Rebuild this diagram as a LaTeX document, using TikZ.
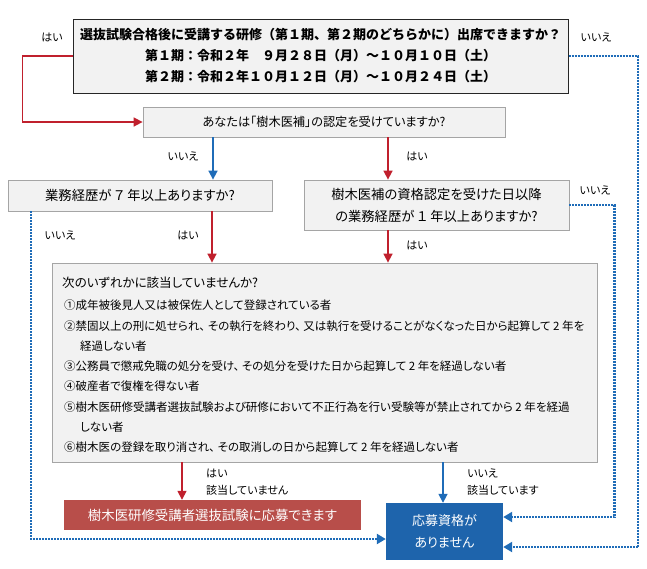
\documentclass[tikz,border=0pt]{standalone}
\usepackage{fontspec}
\setmainfont{Noto Sans CJK JP}
\newfontfamily\pjp[RawFeature=+palt]{Noto Sans CJK JP}
\usetikzlibrary{arrows.meta}
\definecolor{rline}{RGB}{192,32,45}
\definecolor{bline}{RGB}{31,108,184}
\definecolor{rfill}{RGB}{184,78,74}
\definecolor{bfill}{RGB}{30,100,172}
\definecolor{gfill}{RGB}{242,242,242}
\definecolor{gedge}{RGB}{165,165,165}
\newcommand{\fsz}[2]{\fontsize{#1}{#2}\selectfont}
\begin{document}
\begin{tikzpicture}[x=1pt,y=-1pt,
 gbox/.style={draw=gedge,fill=gfill,line width=0.8pt,inner sep=0pt,align=center},
 redarr/.style={draw=rline,line width=1.6pt,-{Triangle[length=9pt,width=9pt]}},
 bluearr/.style={draw=bline,line width=1.6pt,-{Triangle[length=9pt,width=9pt]}},
 bdot/.style={draw=bline,line width=2.2pt,dash pattern=on 2pt off 1pt,-{Triangle[length=9pt,width=10pt]}},
 lbl/.style={font=\pjp\fsz{11}{16},inner sep=0pt},
 lblw/.style={font=\pjp\fsz{11}{16},inner sep=0pt,anchor=west},
 item/.style={anchor=west,font=\pjp\fsz{11.5}{14},inner sep=0pt},
]
\useasboundingbox (0,0) rectangle (647,568);
\fill[white] (0,0) rectangle (647,568);

% boxes
\node[gbox,draw=black!85,line width=1pt,minimum width=495pt,minimum height=74pt,font=\bfseries\fsz{13}{21}] (top) at (320.5,56)
 {選抜試験合格後に受講する研修（第１期、第２期のどちらかに）出席できますか？\\
  第１期：令和２年　９月２８日（月）～１０月１０日（土）\\
  第２期：令和２年１０月１２日（月）～１０月２４日（土）};
\node[gbox,minimum width=362pt,minimum height=30pt,font=\pjp\fsz{12.2}{14}] (q2) at (324,122) {あなたは「樹木医補」の認定を受けていますか?};
\node[gbox,minimum width=264pt,minimum height=31pt,font=\pjp\fsz{13.3}{14}] (q3) at (140,195.5) {業務経歴が ７ 年以上ありますか?};
\node[gbox,minimum width=265pt,minimum height=50pt,font=\pjp\fsz{13.3}{22}] (q4) at (436.5,205) {樹木医補の資格認定を受けた日以降\\の業務経歴が １ 年以上ありますか?};
\node[gbox,minimum width=545pt,minimum height=199pt] (q6) at (324.5,362.5) {};
\node[fill=rfill,text=white,inner sep=0pt,minimum width=297pt,minimum height=30pt,font=\pjp\fsz{13.4}{15}] (ok) at (212.5,515) {樹木医研修受講者選抜試験に応募できます};
\node[fill=bfill,text=white,inner sep=0pt,minimum width=117pt,minimum height=57pt,align=center,font=\pjp\fsz{13}{22}] (res) at (444.5,531.5) {応募資格が\\ありません};

% box6 text
\node[anchor=west,inner sep=0pt,font=\pjp\fsz{12.5}{14}] (t0) at (62,283) {次のいずれかに該当していませんか?};
\node[item] (t1) at (64,305) {①成年被後見人又は被保佐人として登録されている者};
\node[item] (t2) at (64,326) {②禁固以上の刑に処せられ、 その執行を終わり、 又は執行を受けることがなくなった日から起算して 2 年を};
\node[item] (t3) at (80,346) {経過しない者};
\node[item] (t4) at (64,366) {③公務員で懲戒免職の処分を受け、 その処分を受けた日から起算して 2 年を経過しない者};
\node[item] (t5) at (64,386) {④破産者で復権を得ない者};
\node[item] (t6) at (64,407) {⑤樹木医研修受講者選抜試験および研修において不正行為を行い受験等が禁止されてから 2 年を経過};
\node[item] (t7) at (80,427) {しない者};
\node[item] (t8) at (64,447) {⑥樹木医の登録を取り消され、 その取消しの日から起算して 2 年を経過しない者};

% labels
\node[lbl] (a1) at (52,37) {はい};
\node[lbl] (a2) at (596,37) {いいえ};
\node[lbl] (a3) at (183,156) {いいえ};
\node[lbl] (a4) at (417,156) {はい};
\node[lbl] (a5) at (595,190) {いいえ};
\node[lbl] (a6) at (60,235) {いいえ};
\node[lbl] (a7) at (188,235) {はい};
\node[lbl] (a8) at (417,245) {はい};
\node[lblw] (a9) at (206,473) {はい};
\node[lblw] (a10) at (206,490) {該当していません};
\node[lblw] (a11) at (467,473) {いいえ};
\node[lblw] (a12) at (467,490) {該当しています};

% coordinates
\coordinate (xa) at (213,0);
\coordinate (xb) at (388,0);
\coordinate (xc) at (212,0);
\coordinate (xd) at (182,0);
\coordinate (xe) at (443,0);
\coordinate (r1) at (638,547);
\coordinate (r2) at (614.5,517);
\coordinate (lc) at (31,539);

% connectors
\draw[redarr] (top.west) -- ++(-50,0) |- (q2.west);
\draw[bdot] (top.east) -| (r1) -- (r1 -| res.east);
\draw[bdot] (q4.east) -| (r2) -- (r2 -| res.east);
\draw[bdot] (lc |- q3.south) -- (lc) -- (lc -| res.west);
\draw[bluearr] (xa |- q2.south) -- (xa |- q3.north);
\draw[redarr] (xb |- q2.south) -- (xb |- q4.north);
\draw[redarr] (xc |- q3.south) -- (xc |- q6.north);
\draw[redarr] (xb |- q4.south) -- (xb |- q6.north);
\draw[redarr] (xd |- q6.south) -- (xd |- ok.north);
\draw[bluearr] (xe |- q6.south) -- (xe |- res.north);
\end{tikzpicture}
\end{document}
